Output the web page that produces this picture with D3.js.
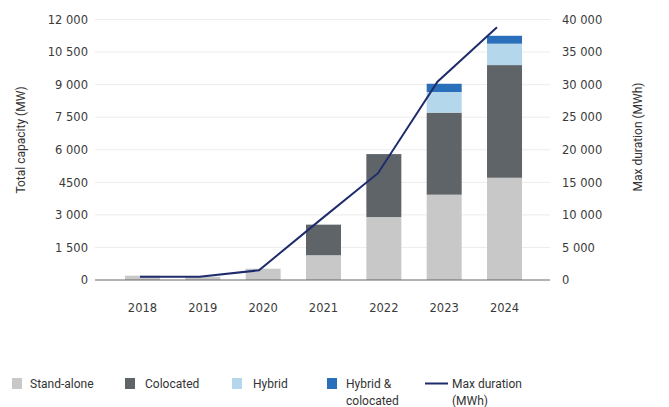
<!DOCTYPE html>
<html><head><meta charset="utf-8">
<script src="https://cdn.jsdelivr.net/npm/d3@7"></script>
<style>
body{margin:0;background:#fff;}
svg{display:block;}
</style></head>
<body>
<svg id="c" width="669" height="407"></svg>
<script>
const years = ["2018","2019","2020","2021","2022","2023","2024"];
const standAlone = [200, 150, 520, 1140, 2900, 3930, 4710];
const colocated = [0, 0, 0, 1410, 2900, 3780, 5190];
const hybrid = [0, 0, 0, 0, 0, 950, 985];
const hybridColocated = [0, 0, 0, 0, 0, 380, 365];
const maxDuration = [500, 500, 1490, 9000, 16400, 30450, 38800];
const leftTicks = [0, 1500, 3000, 4500, 6000, 7500, 9000, 10500, 12000];
const rightTicks = [0, 5000, 10000, 15000, 20000, 25000, 30000, 35000, 40000];
const seriesNames = ["Stand-alone", "Colocated", "Hybrid", "Hybrid & colocated"];
const seriesColors = ["#c8c8c8", "#5f6468", "#b5d7ec", "#2a6fba"];
const lineColor = "#1f2c6b";

const svg = d3.select("#c");
const plotL = 95, plotR = 550, y0 = 280, y1 = 19.5;

const yL = d3.scaleLinear().domain([0, 12000]).range([y0, y1]);
const yR = d3.scaleLinear().domain([0, 40000]).range([y0, y1]);
const x = d3.scaleBand().domain(years).range([112.3, 534.7]).paddingInner(0.42).paddingOuter(0.21);
const xLine = d3.scalePoint().domain(years).range([140, 497]);

const fmt = v => v === 4500 ? "4500" : d3.format(",")(v).replace(/,/g, " ");

// gridlines
svg.append("g").selectAll("line").data(leftTicks.filter(t => t > 0)).join("line")
  .attr("x1", plotL).attr("x2", plotR)
  .attr("y1", d => yL(d)).attr("y2", d => yL(d))
  .attr("stroke", "#ececec").attr("stroke-width", 1);

// left axis labels
const axL = svg.append("g").attr("transform", `translate(${plotL},0)`)
  .call(d3.axisLeft(yL).tickValues(leftTicks).tickFormat(fmt).tickSize(0).tickPadding(7));
axL.select(".domain").remove();
axL.selectAll("text").attr("font-family", "DejaVu Sans").attr("font-size", 11.5).attr("fill", "#3a3a3a");

// right axis labels
const axR = svg.append("g").attr("transform", `translate(${plotR},0)`)
  .call(d3.axisRight(yR).tickValues(rightTicks).tickFormat(d => d3.format(",")(d).replace(/,/g, " ")).tickSize(0).tickPadding(12));
axR.select(".domain").remove();
axR.selectAll("text").attr("font-family", "DejaVu Sans").attr("font-size", 11.5).attr("fill", "#3a3a3a");

// stacked bars
const table = years.map((y, i) => ({year: y, s0: standAlone[i], s1: colocated[i], s2: hybrid[i], s3: hybridColocated[i]}));
const stack = d3.stack().keys(["s0","s1","s2","s3"])(table);
svg.append("g").selectAll("g").data(stack).join("g")
  .attr("fill", (d, i) => seriesColors[i])
  .selectAll("rect").data(d => d).join("rect")
  .attr("x", d => x(d.data.year)).attr("width", x.bandwidth())
  .attr("y", d => yL(d[1])).attr("height", d => yL(d[0]) - yL(d[1]));

// baseline
svg.append("line").attr("x1", plotL).attr("x2", plotR).attr("y1", y0).attr("y2", y0)
  .attr("stroke", "#666").attr("stroke-width", 1);

// x axis labels
const axX = svg.append("g").attr("transform", `translate(0,${y0})`)
  .call(d3.axisBottom(x).tickSize(0).tickPadding(24));
axX.select(".domain").remove();
axX.selectAll("text").attr("font-family", "DejaVu Sans").attr("font-size", 11.5).attr("fill", "#3a3a3a");

// line
svg.append("path").datum(years.map((y, i) => [y, maxDuration[i]]))
  .attr("fill", "none").attr("stroke", lineColor).attr("stroke-width", 2)
  .attr("d", d3.line().x(d => xLine(d[0])).y(d => yR(d[1])));

// axis titles
svg.append("text").attr("transform", "translate(25,140) rotate(-90)")
  .attr("text-anchor", "middle").attr("font-family", "Roboto").attr("font-size", 12).attr("fill", "#333")
  .text("Total capacity (MW)");
svg.append("text").attr("transform", "translate(642,137) rotate(-90)")
  .attr("text-anchor", "middle").attr("font-family", "Roboto").attr("font-size", 12).attr("fill", "#333")
  .text("Max duration (MWh)");

// legend
const legX = [12, 125, 232, 327];
const legTextX = [30, 145, 253, 346];
const legLines = [["Stand-alone"], ["Colocated"], ["Hybrid"], ["Hybrid &", "colocated"]];
const leg = svg.append("g");
seriesNames.forEach((n, i) => {
  leg.append("rect").attr("x", legX[i]).attr("y", 378).attr("width", 10).attr("height", 11).attr("fill", seriesColors[i]);
  const t = leg.append("text").attr("x", legTextX[i]).attr("y", 388).attr("font-family", "Roboto").attr("font-size", 12).attr("fill", "#333");
  legLines[i].forEach((l, j) => t.append("tspan").attr("x", legTextX[i]).attr("dy", j ? 16.5 : 0).text(l));
});
leg.append("line").attr("x1", 425).attr("x2", 448).attr("y1", 383.5).attr("y2", 383.5).attr("stroke", lineColor).attr("stroke-width", 2);
const lt = leg.append("text").attr("x", 452).attr("y", 388).attr("font-family", "Roboto").attr("font-size", 12).attr("fill", "#333");
lt.append("tspan").attr("x", 452).text("Max duration");
lt.append("tspan").attr("x", 452).attr("dy", 16.5).text("(MWh)");
</script>
</body></html>
